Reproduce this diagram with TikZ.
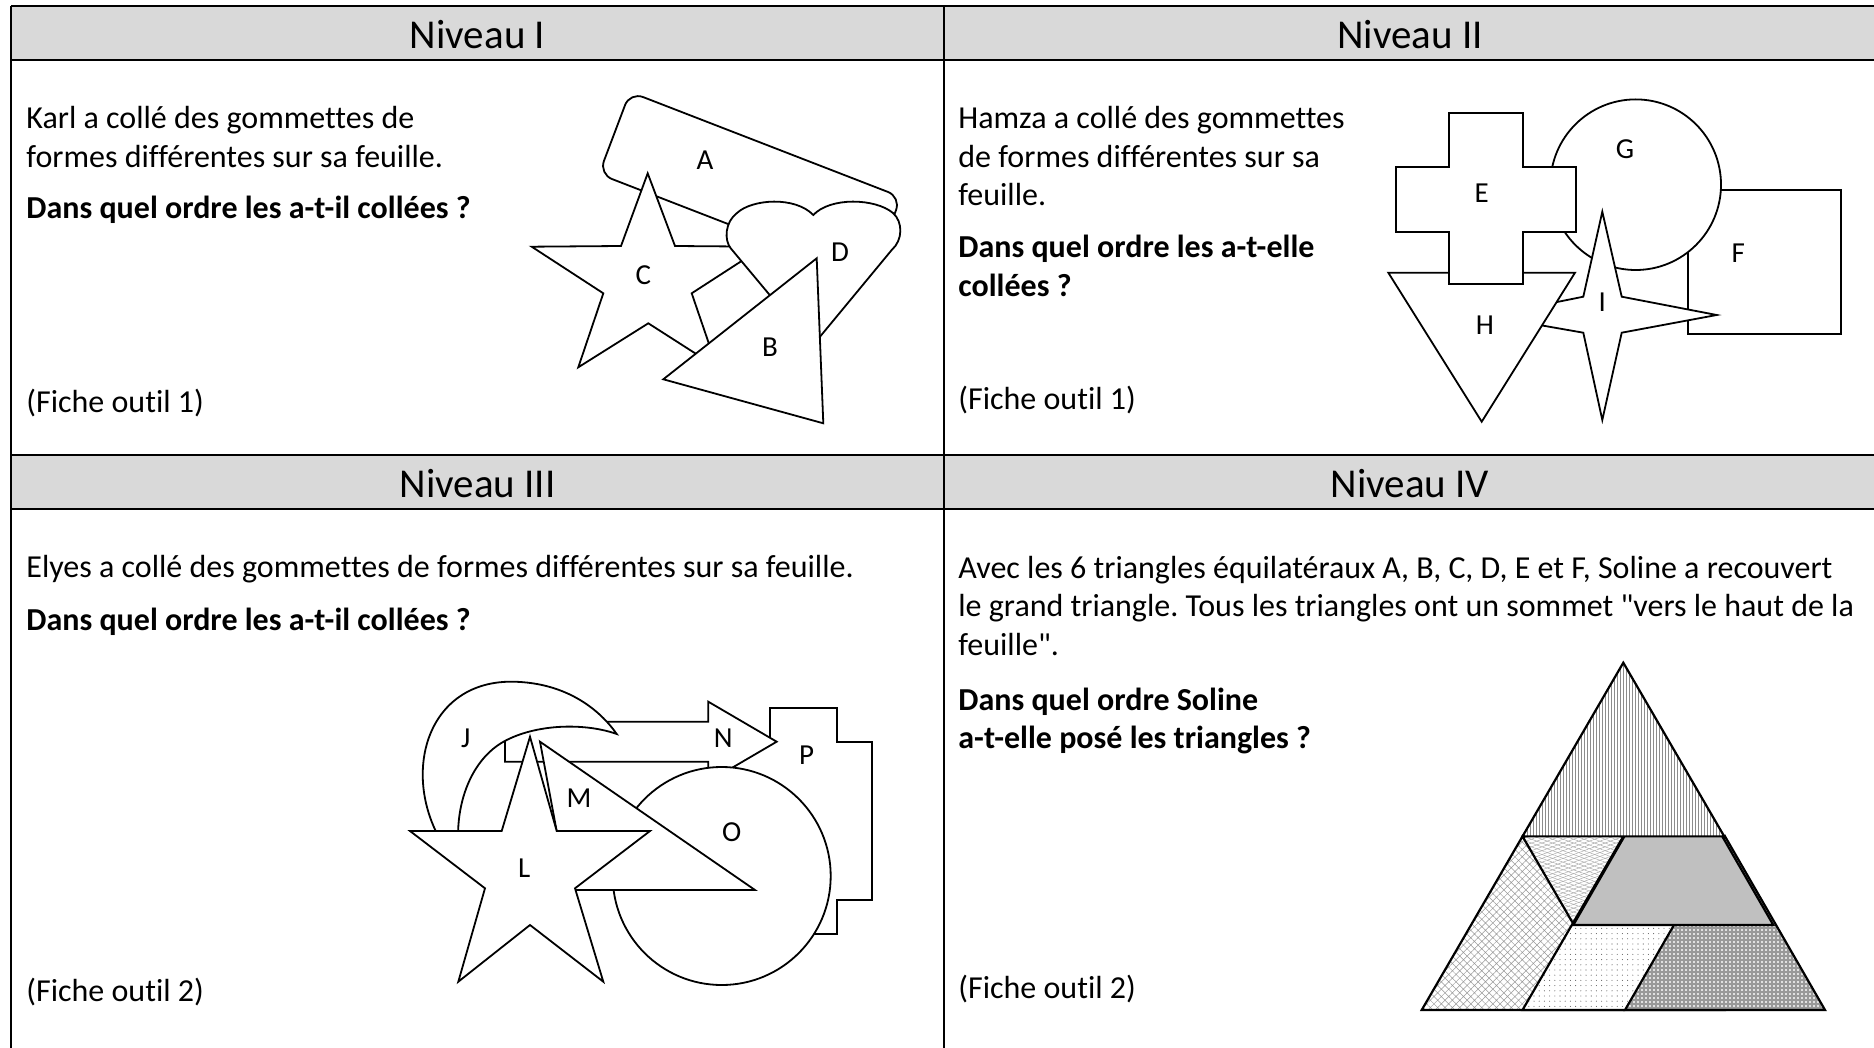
\documentclass[tikz,border=0pt]{standalone}
\usepackage{fontspec}
\setmainfont{Carlito}[Ligatures={NoCommon}]
\usetikzlibrary{patterns,patterns.meta}
\definecolor{hdrgray}{HTML}{D9D9D9}
\definecolor{midgray}{HTML}{C0C0C0}
\frenchspacing
\begin{document}
\begin{tikzpicture}[x=0.5pt,y=-0.5pt,
  gridline/.style={line width=1pt,black},
  hdr/.style={inner sep=0pt,font=\fontsize{20.5}{24}\selectfont},
  body/.style={anchor=base west,inner sep=0pt,font=\fontsize{16}{19}\selectfont},
  bbody/.style={anchor=base west,inner sep=0pt,font=\fontsize{16}{19}\selectfont\bfseries},
  shp/.style={draw=black,fill=white,line width=0.9pt,line join=miter},
  lbl/.style={inner sep=0pt,font=\fontsize{14.5}{17}\selectfont},
  tedge/.style={draw=black,line width=1.1pt,line join=miter},
  stripes/.style={fill=white,postaction={pattern={Lines[angle=90,distance=1.5pt,line width=0.28pt]},pattern color=black!45},postaction={tedge}},
  wavy/.style={fill=white,postaction={pattern={Lines[angle=20,distance=1.8pt,line width=0.22pt]},pattern color=black!35},postaction={pattern={Lines[angle=-20,distance=1.8pt,line width=0.22pt]},pattern color=black!35},postaction={tedge}},
  brick/.style={fill=white,postaction={pattern={Hatch[angle=45,distance=2.6pt,line width=0.25pt]},pattern color=black!40},postaction={tedge}},
  dotty/.style={fill=white,postaction={pattern={Dots[distance=2.6pt,radius=0.28pt]},pattern color=black!60},postaction={tedge}},
  checker/.style={fill=black!12,postaction={pattern={Lines[angle=0,distance=2pt,line width=0.8pt]},pattern color=black!40},postaction={pattern={Lines[angle=90,distance=2pt,line width=0.8pt]},pattern color=black!40},postaction={tedge}},
  graytri/.style={fill=midgray,postaction={tedge}}]
\useasboundingbox (0,0) rectangle (1874,1048);
% table
\fill[hdrgray] (11,6) rectangle (1874,60);
\fill[hdrgray] (11,455) rectangle (1874,509);
\draw[gridline] (11,6) -- (1874,6);
\draw[gridline] (11,60) -- (1874,60);
\draw[gridline] (11,455) -- (1874,455);
\draw[gridline] (11,509) -- (1874,509);
\draw[gridline] (11,6) -- (11,1048);
\draw[gridline] (944,6) -- (944,1048);
\node[hdr] (h1) at (477.5,35) {Niveau I};
\node[hdr] (h2) at (1410,35) {Niveau II};
\node[hdr] (h3) at (477.5,484) {Niveau III};
\node[hdr] (h4) at (1410,484) {Niveau IV};
% texts level I
\node[body] (t1a) at (26,129) {Karl a collé des gommettes de};
\node[body] (t1b) at (26,167.5) {formes différentes sur sa feuille.};
\node[bbody] (t1c) at (26,218.5) {Dans quel ordre les a-t-il collées ?};
\node[body] (t1d) at (26,412.5) {(Fiche outil 1)};
% texts level II
\node[body] (t2a) at (958,129) {Hamza a collé des gommettes};
\node[body] (t2b) at (958,167.5) {de formes différentes sur sa};
\node[body] (t2c) at (958,206) {feuille.};
\node[bbody] (t2d) at (958,258) {Dans quel ordre les a-t-elle};
\node[bbody] (t2e) at (958,296.5) {collées ?};
\node[body] (t2f) at (958,409) {(Fiche outil 1)};
% texts level III
\node[body] (t3a) at (26,577) {Elyes a collé des gommettes de formes différentes sur sa feuille.};
\node[bbody] (t3b) at (26,630) {Dans quel ordre les a-t-il collées ?};
\node[body] (t3c) at (26,1001.5) {(Fiche outil 2)};
% texts level IV
\node[body] (t4a) at (958,578) {Avec les 6 triangles équilatéraux A, B, C, D, E et F, Soline a recouvert};
\node[body] (t4b) at (958,616.5) {le grand triangle. Tous les triangles ont un sommet \textquotedbl vers le haut de la};
\node[body] (t4c) at (958,655) {feuille\textquotedbl.};
\node[bbody] (t4d) at (958,710) {Dans quel ordre Soline};
\node[bbody] (t4e) at (958,748.5) {a-t-elle posé les triangles ?};
\node[body] (t4f) at (958,998) {(Fiche outil 2)};
% ---------- Level I shapes : A, C, D, B
\draw[shp,rounded corners=7pt] (630,92) -- (901,197) -- (870,279) -- (599,174) -- cycle;
\draw[shp] (647.7,173.3) -- (675,246) -- (763.7,246.7) -- (691.7,293.3) -- (717,367.3) -- (648.3,323.3) -- (578.3,367.3) -- (603.3,293.3) -- (531.7,246.7) -- (621,246) -- cycle;
\draw[shp] (812.3,346) -- (730.7,248.3) .. controls (724,240) and (725,222) .. (737,213) .. controls (752,199) and (795,196) .. (813.3,215) .. controls (830,197) and (875,198) .. (893,213) .. controls (903,222) and (903,240) .. (891.7,250) -- cycle;
\draw[shp] (816.7,258.3) -- (663.3,379.3) -- (823.3,423.3) -- cycle;
\node[lbl] (lA) at (705,160) {A};
\node[lbl] (lB) at (770,346.7) {B};
\node[lbl] (lC) at (643.3,275) {C};
\node[lbl] (lD) at (840,251.7) {D};
% ---------- Level II shapes : F, G, I, H, E
\draw[shp] (1687.7,190) rectangle (1840.7,334);
\draw[shp] (1635.7,184.7) circle[radius=42.65pt];
\draw[shp] (1602.3,211.7) -- (1621.7,296.7) -- (1716.7,315) -- (1621.7,332.7) -- (1602.3,420) -- (1583.3,332.7) -- (1488,316) -- (1583.3,296.7) -- cycle;
\draw[shp] (1388.3,272.7) -- (1575,272.7) -- (1481.7,421.7) -- cycle;
\draw[shp] (1449,113.3) -- (1523.3,113.3) -- (1523.3,167.3) -- (1576,167.3) -- (1576,231.7) -- (1523.3,231.7) -- (1523.3,284.3) -- (1449,284.3) -- (1449,231.7) -- (1395.7,231.7) -- (1395.7,167.3) -- (1449,167.3) -- cycle;
\node[lbl] (lE) at (1481.7,193.3) {E};
\node[lbl] (lF) at (1738.3,253.3) {F};
\node[lbl] (lG) at (1625,149.3) {G};
\node[lbl] (lH) at (1485,325) {H};
\node[lbl] (lI) at (1602.3,301.7) {I};
% ---------- Level III shapes : P, N, J, O, M, L
\draw[shp] (770,708.3) -- (836.7,708.3) -- (836.7,741.7) -- (871.7,741.7) -- (871.7,900) -- (836.7,900) -- (836.7,934) -- (770,934) -- (770,900) -- (735,900) -- (735,741.7) -- (770,741.7) -- cycle;
\draw[shp] (505,721.7) -- (708.3,721.7) -- (708.3,701.7) -- (776.7,741.7) -- (708.3,781.7) -- (708.3,761.7) -- (505,761.7) -- cycle;
\draw[shp] (461.7,868.3) .. controls (395,800) and (415,680) .. (513.3,681.7) .. controls (566.7,682.7) and (600,710) .. (616.7,734) .. controls (586.7,723.3) and (540,723.3) .. (506.7,740) .. controls (466.7,760) and (450,816.7) .. (461.7,868.3) -- cycle;
\draw[shp] (721.7,876) circle[radius=54.5pt];
\draw[shp] (540,741.7) -- (567.7,890) -- (755,890) -- cycle;
\draw[shp] (530,736.7) -- (556.7,831) -- (650,831) -- (575,888.3) -- (603.3,981.7) -- (530,925) -- (458.3,981.7) -- (485,888.3) -- (410,831) -- (501.7,831) -- cycle;
\node[lbl] (lJ) at (465.7,738.3) {J};
\node[lbl] (lL) at (524.3,868.3) {L};
\node[lbl] (lM) at (579,798.3) {M};
\node[lbl] (lN) at (723.3,738.3) {N};
\node[lbl] (lO) at (731.7,831.7) {O};
\node[lbl] (lP) at (806.7,755) {P};
% ---------- Level IV triangles : wavy, brick, dots, checker, gray, stripes
\path[wavy] (1573.3,751.7) -- (1473.3,925) -- (1673.3,925) -- cycle;
\path[brick] (1522.5,836.35) -- (1421.7,1010) -- (1623.3,1010) -- cycle;
\path[dotty] (1623.3,836.35) -- (1522.5,1010) -- (1724.2,1010) -- cycle;
\path[checker] (1725,836.35) -- (1625,1010) -- (1825,1010) -- cycle;
\path[graytri] (1673.3,751.35) -- (1573.3,925) -- (1773.3,925) -- cycle;
\path[stripes] (1623.3,662.7) -- (1522.5,836.35) -- (1724.2,836.35) -- cycle;
\end{tikzpicture}
\end{document}
